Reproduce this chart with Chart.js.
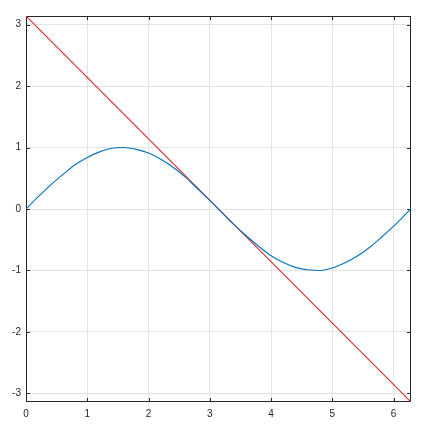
<!DOCTYPE html>
<html>
<head>
<meta charset="utf-8">
<script src="https://cdn.jsdelivr.net/npm/chart.js@4/dist/chart.umd.min.js"></script>
<style>
  body { margin: 0; background: #fff; }
</style>
</head>
<body>
<canvas id="plot" width="438" height="435"></canvas>
<script>
// values
const sineX = [0, 0.2, 0.4, 0.6, 0.8, 1.0, 1.2, 1.4, 1.6, 1.8, 2.0, 2.2, 2.4, 2.6, 2.8, 3.0, 3.2,
  3.4, 3.6, 3.8, 4.0, 4.2, 4.4, 4.6, 4.8, 5.0, 5.2, 5.4, 5.6, 5.8, 6.0, 6.2, 6.28]
const sineY = [0, 0.20, 0.39, 0.56, 0.72, 0.84, 0.93, 0.99, 1.00, 0.97, 0.91, 0.81, 0.68, 0.52, 0.33, 0.14, -0.06,
  -0.26, -0.44, -0.61, -0.76, -0.87, -0.95, -0.99, -1.00, -0.96, -0.88, -0.77, -0.63, -0.46, -0.28, -0.08, 0]
const lineX = [0, 6.2832]
const lineY = [3.1416, -3.1416]
const xTicks = [0, 1, 2, 3, 4, 5, 6]
const yTicks = [-3, -2, -1, 0, 1, 2, 3]

const toPoints = (xs, ys) => xs.map((x, i) => ({ x, y: ys[i] }))
const frameColor = '#262626'

const framePlugin = {
  id: 'frame',
  beforeDatasetsDraw(chart) {
    const { ctx, chartArea: a, scales } = chart
    ctx.save()
    ctx.strokeStyle = frameColor
    ctx.lineWidth = 1
    ctx.strokeRect(a.left + 0.5, a.top + 0.5, a.right - a.left - 1, a.bottom - a.top - 1)
    ctx.beginPath()
    xTicks.forEach(v => {
      const px = Math.round(scales.x.getPixelForValue(v)) + 0.5
      ctx.moveTo(px, a.bottom); ctx.lineTo(px, a.bottom - 4)
      ctx.moveTo(px, a.top); ctx.lineTo(px, a.top + 4)
    })
    yTicks.forEach(v => {
      const py = Math.round(scales.y.getPixelForValue(v)) + 0.5
      ctx.moveTo(a.left, py); ctx.lineTo(a.left + 4, py)
      ctx.moveTo(a.right, py); ctx.lineTo(a.right - 4, py)
    })
    ctx.stroke()
    ctx.restore()
  },
}

const keepTicks = list => scale => {
  scale.ticks = list.map(value => ({ value }))
}

new Chart(document.getElementById('plot'), {
  type: 'line',
  data: {
    datasets: [
      { data: toPoints(sineX, sineY), borderColor: '#0072bd', borderWidth: 1.1, pointRadius: 0, cubicInterpolationMode: 'monotone' },
      { data: toPoints(lineX, lineY), borderColor: '#d42a2a', borderWidth: 1.1, pointRadius: 0 },
    ],
  },
  options: {
    responsive: false,
    animation: false,
    devicePixelRatio: 1,
    layout: { padding: { top: 16, right: 27, left: 0, bottom: 0 } },
    plugins: { legend: { display: false }, tooltip: { enabled: false } },
    scales: {
      x: {
        type: 'linear', min: 0, max: 2 * Math.PI,
        afterBuildTicks: keepTicks(xTicks),
        afterFit: s => { s.height = 33 },
        border: { display: false },
        grid: { color: '#e3e3e3', drawTicks: false },
        ticks: { padding: 6, color: frameColor, font: { family: 'Liberation Sans', size: 10 } },
      },
      y: {
        type: 'linear', min: -Math.PI, max: Math.PI,
        afterBuildTicks: keepTicks(yTicks),
        afterFit: s => { s.width = 26 },
        border: { display: false },
        grid: { color: '#e3e3e3', drawTicks: false },
        ticks: { padding: 5, color: frameColor, font: { family: 'Liberation Sans', size: 10 } },
      },
    },
  },
  plugins: [framePlugin],
})
</script>
</body>
</html>
